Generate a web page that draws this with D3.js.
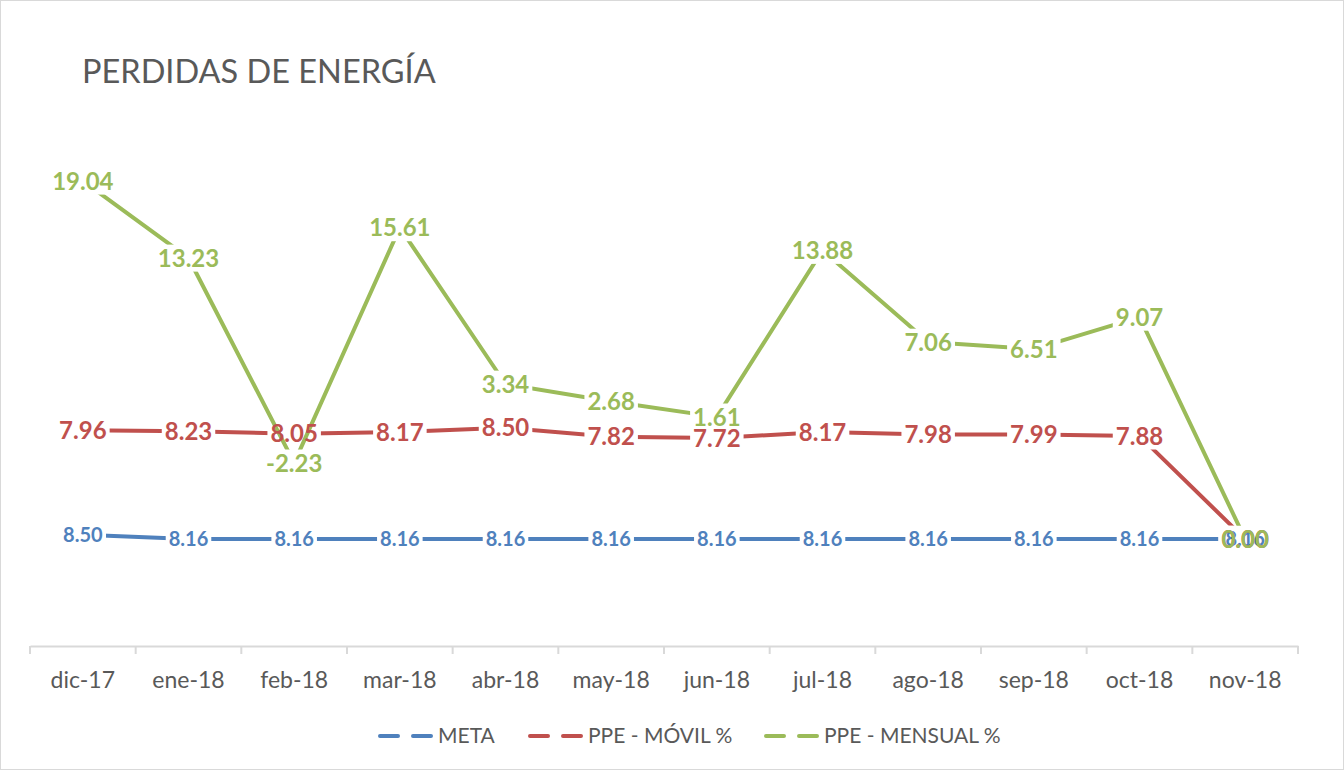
<!DOCTYPE html>
<html>
<head>
<meta charset="utf-8">
<script src="https://cdn.jsdelivr.net/npm/d3@7"></script>
<style>
  html, body { margin: 0; padding: 0; background: #fff; }
  svg { display: block; font-family: Lato, "Open Sans", sans-serif; }
</style>
</head>
<body>
<svg id="chart" width="1344" height="770"></svg>
<script>
// data
const months = ["dic-17", "ene-18", "feb-18", "mar-18", "abr-18", "may-18", "jun-18", "jul-18", "ago-18", "sep-18", "oct-18", "nov-18"];
const meta = [8.50, 8.16, 8.16, 8.16, 8.16, 8.16, 8.16, 8.16, 8.16, 8.16, 8.16, 8.16];
const movil = [7.96, 8.23, 8.05, 8.17, 8.50, 7.82, 7.72, 8.17, 7.98, 7.99, 7.88, 0.00];
const mensual = [19.04, 13.23, -2.23, 15.61, 3.34, 2.68, 1.61, 13.88, 7.06, 6.51, 9.07, 0.00];
const seriesNames = ["META", "PPE - MÓVIL %", "PPE - MENSUAL %"];
const seriesColors = ["#4F81BD", "#C0504D", "#9BBB59"];
const labelSizes = [20, 24, 24];

const width = 1344, height = 770;
const svg = d3.select("#chart");

// frame
svg.append("rect")
   .attr("x", 0.5).attr("y", 0.5)
   .attr("width", width - 1).attr("height", height - 1)
   .attr("fill", "#fff").attr("stroke", "#d9d9d9");

svg.append("text")
   .attr("x", 82).attr("y", 83)
   .attr("font-size", 32.5)
   .attr("fill", "#595959")
   .text("PERDIDAS DE ENERGÍA");

const x = d3.scaleBand().domain(months).range([30, 1298]);
const y = d3.scaleLinear().domain([0, 40]).range([646, 122]);

// stacked line chart: each series sits on top of the previous ones
const raw = [meta, movil, mensual];
const stacked = [];
let acc = months.map(() => 0);
raw.forEach(function(vals){
	acc = acc.map((a, i) => a + vals[i]);
	stacked.push(acc.slice());
});

// category axis
const xAxis = d3.axisBottom(x).tickSize(0).tickPadding(26);
const gx = svg.append("g").attr("transform", "translate(0,646)").call(xAxis);
gx.select(".domain").attr("stroke", "#d9d9d9").attr("stroke-width", 2);
gx.selectAll("text").attr("font-size", 23).attr("fill", "#595959")
  .attr("font-family", "Lato, 'Open Sans', sans-serif");
const bounds = months.map(m => x(m)).concat([x.range()[1]]);
gx.selectAll(".sep").data(bounds).enter().append("line")
  .attr("x1", d => d).attr("x2", d => d)
  .attr("y1", 0).attr("y2", 8)
  .attr("stroke", "#d9d9d9").attr("stroke-width", 2);

const line = d3.line()
	.x((d, i) => x(months[i]) + x.bandwidth() / 2)
	.y(d => y(d));

const lineLayer = svg.append("g");
const bgLayer = svg.append("g");
const greenLineLayer = svg.append("g");
const greenBgLayer = svg.append("g");
const textLayer = svg.append("g");

function addLine(layer, s){
	layer.append("path")
		.datum(stacked[s])
		.attr("d", line)
		.attr("fill", "none")
		.attr("stroke", seriesColors[s])
		.attr("stroke-width", 4)
		.attr("stroke-linejoin", "round");
}
addLine(lineLayer, 0);
addLine(lineLayer, 1);
addLine(greenLineLayer, 2);

// data labels centred on the points, white box behind each
[0, 1, 2].forEach(function(s){
	const texts = textLayer.selectAll(".lab" + s)
		.data(raw[s]).enter().append("text")
		.attr("class", "lab" + s)
		.attr("x", (d, i) => x(months[i]) + x.bandwidth() / 2)
		.attr("y", (d, i) => y(stacked[s][i]))
		.attr("dy", "0.36em")
		.attr("text-anchor", "middle")
		.attr("font-size", labelSizes[s])
		.attr("font-weight", "bold")
		.attr("fill", seriesColors[s])
		.text(d => d3.format(".2f")(d).replace("−", "-"));
	const layer = s == 2 ? greenBgLayer : bgLayer;
	texts.each(function(){
		const b = this.getBBox();
		layer.append("rect")
			.attr("x", b.x - 3).attr("y", b.y + 2)
			.attr("width", b.width + 6).attr("height", b.height - 2)
			.attr("fill", "#fff");
	});
});

// legend
const legendX = [380, 530, 766];
const legend = svg.append("g");
seriesNames.forEach(function(name, s){
	const lx = legendX[s];
	legend.append("line")
		.attr("x1", lx).attr("x2", lx + 54)
		.attr("y1", 736).attr("y2", 736)
		.attr("stroke", seriesColors[s])
		.attr("stroke-width", 4)
		.attr("stroke-linecap", "round")
		.attr("stroke-dasharray", "18 15");
	legend.append("text")
		.attr("x", lx + 58).attr("y", 743)
		.attr("font-size", 21)
		.attr("fill", "#595959")
		.text(name);
});
</script>
</body>
</html>
